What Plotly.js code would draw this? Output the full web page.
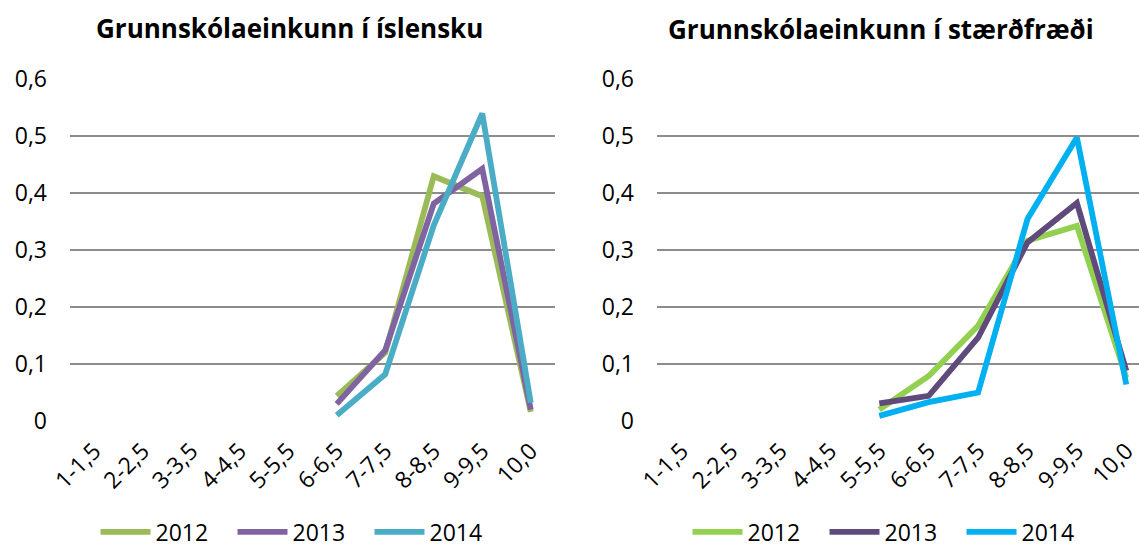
<!DOCTYPE html>
<html>
<head>
<meta charset="utf-8">
<script src="https://cdn.plot.ly/plotly-3.0.1.min.js"></script>
<style>html,body{margin:0;padding:0;background:#fff;}#chart{width:1139px;height:550px;}</style>
</head>
<body>
<div id="chart"></div>
<script>
// ---- data ----
const categories = ['1-1,5','2-2,5','3-3,5','4-4,5','5-5,5','6-6,5','7-7,5','8-8,5','9-9,5','10,0'];
const years = ['2012','2013','2014'];
const titleLeft = 'Grunnskólaeinkunn í íslensku';
const titleRight = 'Grunnskólaeinkunn í stærðfræði';

// Íslenska
const isl2012 = [null,null,null,null,null,0.044,0.120,0.429,0.394,0.016];
const isl2013 = [null,null,null,null,null,0.030,0.124,0.381,0.442,0.020];
const isl2014 = [null,null,null,null,null,0.010,0.082,0.343,0.539,0.032];

// Stærðfræði
const st2012 = [null,null,null,null,0.020,0.079,0.167,0.316,0.342,0.076];
const st2013 = [null,null,null,null,0.031,0.044,0.146,0.313,0.382,0.088];
const st2014 = [null,null,null,null,0.009,0.033,0.050,0.354,0.497,0.064];

const yTickVals = [0,0.1,0.2,0.3,0.4,0.5,0.6];
const yTickText = ['0','0,1','0,2','0,3','0,4','0,5','0,6'];

// ---- styles ----
const colorsLeft = ['#9BBB59','#8064A2','#4BACC6'];
const colorsRight = ['#92D050','#604A7B','#00B0F0'];
const FONT = 'Open Sans, Liberation Sans, sans-serif';
const W = 1139, H = 550;

function tr(y, vals, color, xa, ya, leg) {
  return {
    x: categories, y: vals, type: 'scatter', mode: 'lines', name: y,
    line: {color: color, width: 5.8}, xaxis: xa, yaxis: ya, legend: leg,
    connectgaps: false, hoverinfo: 'skip'
  };
}

const data = [
  tr(years[0], isl2012, colorsLeft[0], 'x', 'y', 'legend'),
  tr(years[1], isl2013, colorsLeft[1], 'x', 'y', 'legend'),
  tr(years[2], isl2014, colorsLeft[2], 'x', 'y', 'legend'),
  tr(years[0], st2012, colorsRight[0], 'x2', 'y2', 'legend2'),
  tr(years[1], st2013, colorsRight[1], 'x2', 'y2', 'legend2'),
  tr(years[2], st2014, colorsRight[2], 'x2', 'y2', 'legend2')
];

const yBottom = (H - 421) / H, yTop = (H - 78.7) / H;

function xaxis(domain, range) {
  return {
    domain: domain, type: 'category', categoryorder: 'array', categoryarray: categories,
    range: range, showgrid: false, zeroline: false, showline: false, ticks: '',
    tickangle: -45, tickfont: {family: FONT, size: 23, color: '#000'},
    ticklabelstandoff: 11, fixedrange: true, automargin: false
  };
}
function yaxis(anchor, standoff) {
  return {
    domain: [yBottom, yTop], anchor: anchor, range: [0, 0.6],
    tickvals: yTickVals, ticktext: yTickText,
    showgrid: true, gridcolor: '#8C8C8C', gridwidth: 2,
    zeroline: false, showline: false, ticks: '',
    tickfont: {family: FONT, size: 23, color: '#000'},
    ticklabelstandoff: standoff, fixedrange: true, automargin: false
  };
}

const legendBase = {
  orientation: 'h', xanchor: 'center', yanchor: 'middle', y: (H - 532) / H,
  font: {family: FONT, size: 23, color: '#000'}, entrywidth: 72, entrywidthmode: 'pixels',
  itemwidth: 50, bgcolor: 'rgba(0,0,0,0)', traceorder: 'normal'
};

const layout = {
  width: W, height: H, margin: {l: 0, r: 0, t: 0, b: 0, autoexpand: false},
  paper_bgcolor: '#fff', plot_bgcolor: '#fff', showlegend: true,
  xaxis: xaxis([70 / W, 555 / W], [-0.5, 9.5]),
  yaxis: yaxis('x', 22),
  xaxis2: xaxis([657 / W, 1], [-0.5, 9.257]),
  yaxis2: yaxis('x2', 22),
  legend: Object.assign({}, legendBase, {x: 301 / W}),
  legend2: Object.assign({}, legendBase, {x: 893 / W}),
  annotations: [
    {text: '<b>' + titleLeft + '</b>', xref: 'paper', yref: 'paper', x: 289 / W, y: (H - 28) / H,
     xanchor: 'center', yanchor: 'middle', showarrow: false, font: {family: FONT, size: 26, color: '#000'}},
    {text: '<b>' + titleRight + '</b>', xref: 'paper', yref: 'paper', x: 881 / W, y: (H - 29) / H,
     xanchor: 'center', yanchor: 'middle', showarrow: false, font: {family: FONT, size: 26, color: '#000'}}
  ]
};

Plotly.newPlot('chart', data, layout, {staticPlot: true, displayModeBar: false});
</script>
</body>
</html>
